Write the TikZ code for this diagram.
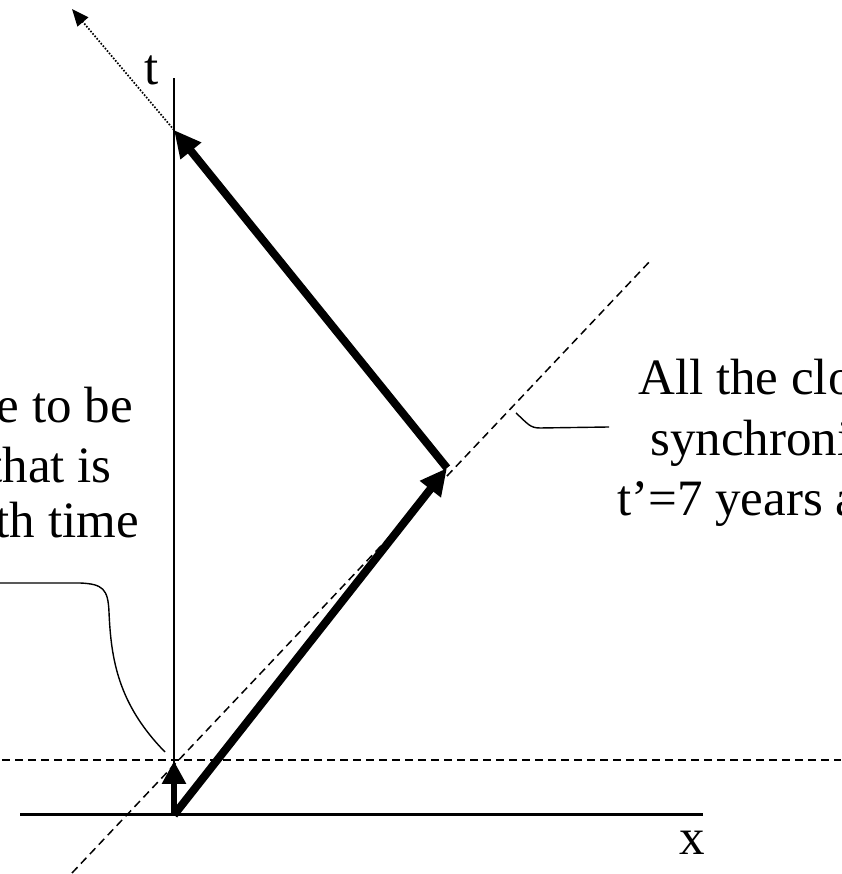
\documentclass[tikz,border=0pt]{standalone}
\usepackage{fontspec}
\setmainfont{Liberation Serif}
\usepackage{tikz}
\usetikzlibrary{arrows.meta,calc,positioning}
\tikzset{
  axis/.style={black, line width=2pt},
  simul/.style={black, line width=1.5pt, dash pattern=on 8pt off 5pt},
  leg/.style={black, line width=8pt, -{Triangle[length=27pt,width=25pt]}},
  tick/.style={black, line width=6.5pt, -{Triangle[length=23pt,width=23pt]}},
  ray/.style={black, line width=1.7pt, dash pattern=on 1.6pt off 1.6pt,
              -{Triangle[length=17pt,width=14pt]}},
  callout/.style={black, line width=1.4pt},
  lab/.style={font=\fontsize{51}{60}\selectfont, inner sep=0pt},
}
\begin{document}
\begin{tikzpicture}[x=1pt,y=1pt]
  \path[use as bounding box] (0,0) rectangle (841,874);

  % Frame of the stay-at-home twin.
  \coordinate (O) at (174,59);
  \coordinate (ttop) at (174,796);
  \coordinate (xl) at (20,59);
  \coordinate (xr) at (703,59);
  \draw[axis] (O) -- (ttop);
  \draw[axis, line width=3pt] (xl) -- (xr);
  \node[lab, anchor=base] (tlab) at (152,789) {t};
  \node[lab, anchor=base] (xlab) at (692,19) {x};

  % Lines of simultaneity.
  \coordinate (dlo) at (72,1);
  \coordinate (dhi) at (652,615);
  \coordinate (hl) at (2,114);
  \coordinate (hr) at (841,114);
  \draw[simul] (dlo) -- (dhi);
  \draw[simul] (hl) -- (hr);

  % Outbound and return legs.
  \coordinate (turn) at (447,406);
  \coordinate (back) at (174,744);
  \coordinate (mark) at (174,113);
  \coordinate (rayend) at (72,865);
  \draw[leg] (O) -- (turn);
  \draw[leg] (turn) -- (back);
  \draw[tick] (O) -- (mark);
  \draw[ray] (back) -- (rayend);

  % Left note, cut by the frame.
  \node[lab, anchor=base east] (lnote1) at (133,451) {e to be};
  \node[lab, anchor=base east] (lnote2) at (112,391) {that is};
  \node[lab, anchor=base east] (lnote3) at (139,336) {th time};
  \coordinate (lc) at (0,291);
  \coordinate (lcend) at (165,122);
  \draw[callout] (lc) -- (80,291) .. controls (103,290) and (108,285) .. (109,262)
    .. controls (111,215) and (118,170) .. (lcend);

  % Right note, cut by the frame.
  \node[lab, anchor=base west] (rnote1) at (638,479) {All the clo};
  \node[lab, anchor=base west] (rnote2) at (650,418) {synchroni};
  \node[lab, anchor=base west] (rnote3) at (617,358) {t’=7 years a};
  \coordinate (rc) at (516,461);
  \coordinate (rcend) at (609,447);
  \draw[callout] (rc) .. controls (528,450) and (530,446) .. (540,446) -- (rcend);
\end{tikzpicture}
\end{document}
